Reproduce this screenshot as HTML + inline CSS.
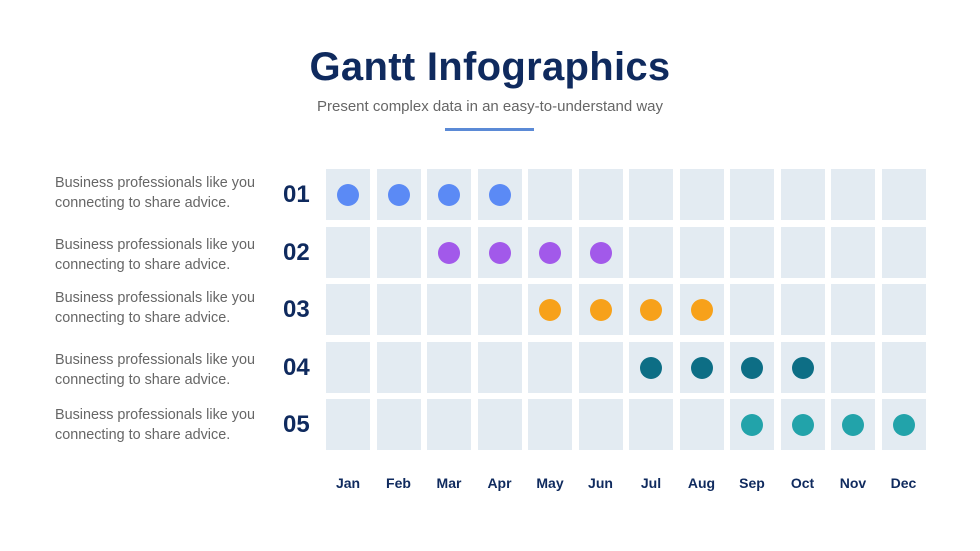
<!DOCTYPE html>
<html><head><style>
body{margin:0;width:980px;height:551px;background:#fff;position:relative;overflow:hidden;font-family:"Liberation Sans",sans-serif}
.a{position:absolute}
.t{left:0;width:980px;text-align:center;top:45px;font-size:40px;font-weight:bold;color:#0f2a5e;letter-spacing:0.3px}
.s{left:0;width:980px;text-align:center;top:98px;font-size:15px;color:#666}
.c{width:44px;height:51px;background:#e3ebf2}
.d{width:22px;height:22px;border-radius:50%}
.n{font-size:24px;font-weight:bold;color:#0f2a5e;width:40px;left:283px}
.m{font-size:14px;font-weight:bold;color:#0f2a5e;width:50px;text-align:center;top:475px}
.l{left:55px;font-size:14.4px;color:#666;line-height:19.5px;white-space:nowrap}
</style></head><body>
<div class="a t">Gantt Infographics</div>
<div class="a s">Present complex data in an easy-to-understand way</div>
<div class="a" style="left:445px;top:128px;width:89px;height:3px;background:#5b8ad6"></div>
<div id="g"></div>
<script>
var g=document.getElementById('g'),h='';
var rows=[169,226.5,284,341.5,399],cols=[];
for(var i=0;i<12;i++)cols.push(326+i*50.5);
var colors=['#5b8af5','#a259ea','#f7a11a','#0d6e85','#22a3aa'];
var mon=['Jan','Feb','Mar','Apr','May','Jun','Jul','Aug','Sep','Oct','Nov','Dec'];
var ly=[174,236,289,351,406];
for(var r=0;r<5;r++){
 h+='<div class="a n" style="top:'+(rows[r]+12)+'px">0'+(r+1)+'</div>';
 h+='<div class="a l" style="top:'+ly[r]+'px">Business professionals like you<br>connecting to share advice.</div>';
 for(var c=0;c<12;c++){
  h+='<div class="a c" style="left:'+cols[c]+'px;top:'+rows[r]+'px"></div>';
  if(c>=2*r&&c<2*r+4)h+='<div class="a d" style="background:'+colors[r]+';left:'+(cols[c]+11)+'px;top:'+(rows[r]+15)+'px"></div>';
 }
}
for(var c=0;c<12;c++)h+='<div class="a m" style="left:'+(cols[c]-3)+'px">'+mon[c]+'</div>';
g.innerHTML=h;
</script>
</body></html>
